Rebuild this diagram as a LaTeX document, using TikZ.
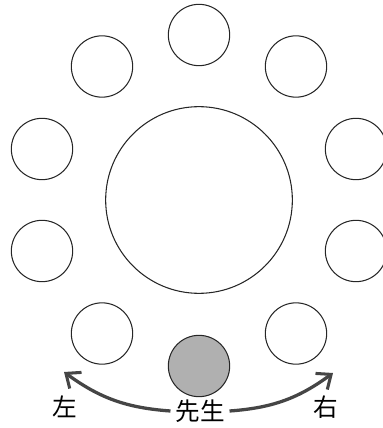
\documentclass[tikz,border=0pt]{standalone}
\usepackage{fontspec}
\newfontfamily\cjk{Noto Sans CJK JP}
\usetikzlibrary{arrows.meta}
\definecolor{seatgray}{HTML}{B0B0B0}
\definecolor{arrowgray}{HTML}{454545}
\tikzset{
  seatnode/.style={circle,draw=black!85,line width=0.9pt,minimum size=1.84cm,inner sep=0pt},
  tchnode/.style={seatnode,fill=seatgray},
  tablenode/.style={circle,draw=black!85,line width=0.9pt,minimum size=5.6cm,inner sep=0pt},
  txtnode/.style={inner sep=0pt,font=\cjk\fontsize{21}{21}\selectfont},
  turnedge/.style={-{Straight Barb[length=3.6mm,width=6mm,line width=2.6pt]},line width=2.8pt,arrowgray},
}

\begin{document}
\begin{tikzpicture}[x=0.03cm,y=-0.03cm]
  \useasboundingbox (0,0) rectangle (382,428);
  \node[tablenode] (tbl) at (199,200) {};
  \node[seatnode] (s1) at (199,35) {};
  \node[seatnode] (s2) at (102,66.5) {};
  \node[seatnode] (s3) at (42,149) {};
  \node[seatnode] (s4) at (42,251) {};
  \node[seatnode] (s5) at (102,333.5) {};
  \node[tchnode] (s6) at (199,366) {};
  \node[seatnode] (s7) at (296,333.5) {};
  \node[seatnode] (s8) at (356,251) {};
  \node[seatnode] (s9) at (356,149) {};
  \node[seatnode] (s10) at (296,66.5) {};
  \node[txtnode] (tch) at (200,411) {先生};
  \node[txtnode] (lft) at (65,407) {左};
  \node[txtnode] (rgt) at (326,407) {右};
  \coordinate (ltip) at (64,372);
  \coordinate (rtip) at (333,373);
  \draw[turnedge] ([xshift=-4pt]tch.west) to[bend left=16] (ltip);
  \draw[turnedge] ([xshift=4pt]tch.east) to[bend right=16] (rtip);
\end{tikzpicture}
\end{document}
